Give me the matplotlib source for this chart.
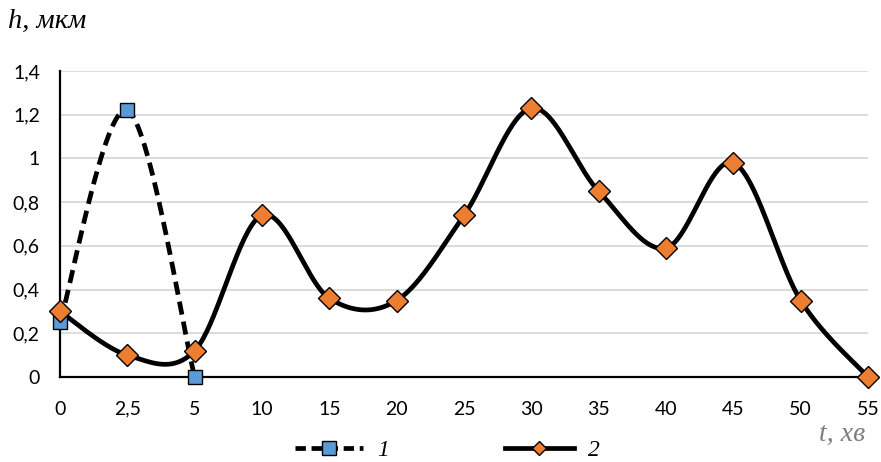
import numpy as np
import matplotlib
matplotlib.use("Agg")
import matplotlib.pyplot as plt
from matplotlib.lines import Line2D

categories = ["0", "2,5", "5", "10", "15", "20", "25", "30", "35", "40", "45", "50", "55"]
series1 = [0.25, 1.22, 0.0]
series2 = [0.30, 0.10, 0.12, 0.74, 0.36, 0.35, 0.74, 1.23, 0.85, 0.59, 0.98, 0.35, 0.0]
yticks = [0, 0.2, 0.4, 0.6, 0.8, 1.0, 1.2, 1.4]
ytick_labels = ["0", "0,2", "0,4", "0,6", "0,8", "1", "1,2", "1,4"]


def smooth(xs, ys, n=40):
    xs = np.asarray(xs, float)
    ys = np.asarray(ys, float)
    P = np.column_stack([xs, ys])
    P = np.vstack([P[0], P, P[-1]])
    out = []
    for i in range(1, len(P) - 2):
        p0, p1, p2, p3 = P[i - 1], P[i], P[i + 1], P[i + 2]
        c1 = p1 + (p2 - p0) / 6
        c2 = p2 - (p3 - p1) / 6
        t = np.linspace(0, 1, n)[:, None]
        seg = ((1 - t) ** 3) * p1 + 3 * ((1 - t) ** 2) * t * c1 + 3 * (1 - t) * t ** 2 * c2 + t ** 3 * p2
        out.append(seg if i == 1 else seg[1:])
    out = np.vstack(out)
    return out[:, 0], out[:, 1]


W, H = 881, 462
fig = plt.figure(figsize=(W / 100, H / 100), dpi=100)
ax = fig.add_axes([60 / W, 1 - 377 / H, (868 - 60) / W, (377 - 71) / H])

x1 = np.arange(len(series1))
x2 = np.arange(len(series2))

for y in yticks[1:]:
    ax.axhline(y, color="#D9D9D9", lw=1.3, zorder=0)

LW = 3.4
sx, sy = smooth(x1, series1)
ax.plot(sx, sy, color="black", lw=LW, ls=(0, (2.8, 1.5)), zorder=2)
ax.plot(x1, series1, ls="none", marker="s", ms=10, mfc="#5B9BD5", mec="black", mew=1, zorder=4, clip_on=False)

sx, sy = smooth(x2, series2)
ax.plot(sx, sy, color="black", lw=LW, zorder=3)
ax.plot(x2, series2, ls="none", marker="D", ms=11, mfc="#ED7D31", mec="black", mew=1, zorder=5, clip_on=False)

ax.set_xlim(0, len(categories) - 1)
ax.set_ylim(0, 1.4)
ax.set_xticks(x2)
ax.set_xticklabels(categories)
ax.set_yticks(yticks)
ax.set_yticklabels(ytick_labels)
ax.tick_params(length=0, labelsize=14)
ax.tick_params(axis="y", pad=14.5)
ax.tick_params(axis="x", pad=17)
for lab in ax.get_xticklabels() + ax.get_yticklabels():
    lab.set_family("Lato")
for s in ["top", "right"]:
    ax.spines[s].set_visible(False)
for s in ["left", "bottom"]:
    ax.spines[s].set_linewidth(1.6)
    ax.spines[s].set_color("black")

fig.text(8 / W, 1 - 28 / H, "h, мкм", family="Liberation Serif", style="italic", fontsize=20.5, va="baseline", ha="left")
fig.text(865 / W, 1 - 441 / H, "t, хв", family="Liberation Serif", style="italic", fontsize=20, va="baseline", ha="right", color="#7F7F7F")

h1 = Line2D([], [], color="black", lw=LW, ls=(0, (2.2, 1.2)), marker="s", ms=10, mfc="#5B9BD5", mec="black", mew=1)
h2 = Line2D([], [], color="black", lw=LW, marker="D", ms=7, mfc="#ED7D31", mec="black", mew=1)
leg = fig.legend([h1, h2], ["1", "2"], loc="center left", bbox_to_anchor=(295 / W, 1 - 450 / H), ncol=2,
                 frameon=False, handlelength=2.9, columnspacing=4.9, handletextpad=0.6,
                 borderpad=0, borderaxespad=0,
                 prop={"family": "Liberation Serif", "style": "italic", "size": 17})

fig.savefig("out.png", dpi=100)
